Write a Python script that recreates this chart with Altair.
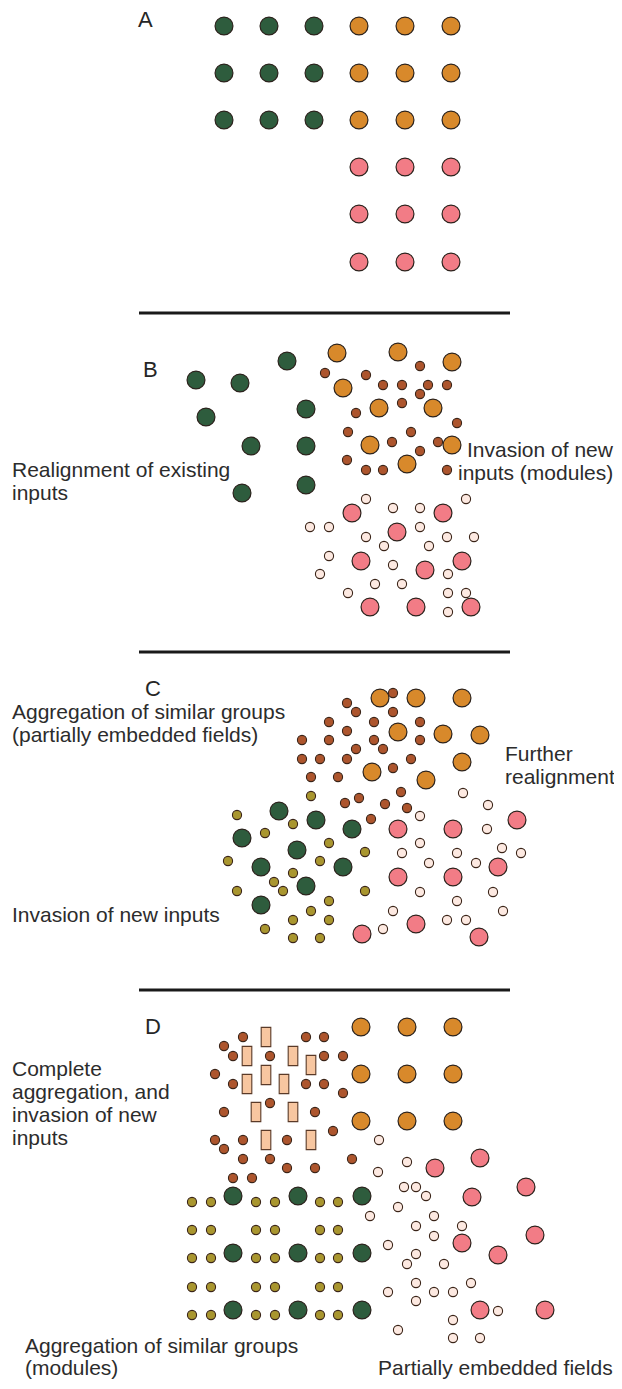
import altair as alt
import pandas as pd

# ---------------- data (page-pixel positions) ----------------
# Panel A
A_GREEN = [(224, 26), (269, 26), (314, 26), (224, 73), (269, 73), (314, 73),
           (224, 120), (269, 120), (314, 120)]
A_ORANGE = [(359, 26), (405, 26), (451, 26), (359, 73), (405, 73), (451, 73),
            (359, 120), (405, 120), (451, 120)]
A_PINK = [(359, 167), (405, 167), (451, 167), (359, 214), (405, 214), (451, 214),
          (359, 262), (405, 262), (451, 262)]

# Panel B
B_GREEN = [(196, 380), (240, 383), (287, 361), (206, 417), (306, 409), (251, 446),
           (306, 446), (242, 493), (306, 485)]
B_ORANGE = [(337, 353), (398, 352), (452, 362), (343, 388), (379, 408), (433, 408),
            (370, 445), (452, 445), (407, 464)]
B_BROWN = [(325, 373), (366, 375), (420, 366), (383, 385), (402, 385), (428, 385),
           (447, 385), (420, 394), (356, 413), (402, 403), (457, 423), (348, 432),
           (411, 432), (392, 442), (438, 442), (420, 451), (347, 460), (366, 470),
           (383, 470), (447, 470)]
B_PINK = [(352, 513), (443, 513), (397, 532), (361, 561), (425, 570), (462, 561),
          (370, 607), (416, 607), (471, 607)]
B_CREAM = [(366, 499), (466, 499), (393, 508), (420, 508), (310, 527), (329, 527),
           (420, 527), (366, 537), (447, 537), (474, 537), (384, 546), (429, 546),
           (329, 556), (393, 565), (448, 574), (320, 574), (375, 584), (402, 584),
           (348, 593), (448, 593), (466, 593), (448, 612)]

# Panel C
C_BROWN = [(393, 693), (347, 703), (356, 712), (393, 712), (329, 722), (374, 722),
           (420, 722), (347, 731), (302, 740), (329, 740), (374, 740), (420, 740),
           (356, 749), (383, 749), (302, 759), (320, 759), (347, 759), (411, 759),
           (393, 768), (311, 777), (338, 777), (401, 792), (359, 798), (345, 803),
           (385, 804), (407, 808), (371, 819)]
C_ORANGE = [(380, 698), (416, 698), (462, 698), (398, 732), (443, 734), (480, 735),
            (462, 762), (372, 772), (426, 780)]
C_GREEN = [(279, 811), (316, 820), (352, 829), (242, 838), (297, 850), (261, 867),
           (343, 867), (306, 886), (261, 905)]
C_OLIVE = [(311, 796), (237, 815), (293, 824), (265, 833), (329, 843), (365, 852),
           (228, 861), (320, 861), (293, 873), (274, 882), (237, 891), (283, 891),
           (365, 891), (329, 901), (311, 911), (293, 920), (329, 920), (265, 929),
           (293, 938), (320, 938)]
C_PINK = [(398, 829), (453, 829), (517, 820), (398, 877), (453, 877), (498, 867),
          (416, 924), (362, 934), (479, 937)]
C_CREAM = [(463, 793), (488, 805), (420, 816), (487, 829), (420, 843), (502, 848),
           (402, 853), (457, 853), (521, 853), (429, 863), (476, 863), (420, 892),
           (493, 892), (457, 901), (393, 911), (503, 911), (447, 920), (466, 920),
           (383, 929)]

# Panel D
D_ORANGE = [(361, 1027), (407, 1027), (453, 1027), (361, 1074), (407, 1074), (453, 1074),
            (361, 1121), (407, 1121), (453, 1121)]
D_BLOCKS = [(266, 1037), (247, 1056), (293, 1056), (311, 1065), (266, 1075), (247, 1084),
            (284, 1084), (256, 1112), (293, 1112), (266, 1140), (311, 1140)]
D_BROWN = [(243, 1037), (306, 1037), (324, 1037), (224, 1046), (233, 1056), (270, 1056),
           (324, 1056), (343, 1056), (215, 1074), (233, 1084), (306, 1084), (324, 1084),
           (343, 1093), (270, 1103), (224, 1112), (315, 1112), (333, 1131), (215, 1140),
           (243, 1140), (287, 1140), (224, 1149), (243, 1159), (270, 1159), (352, 1159),
           (287, 1168), (315, 1168), (233, 1178), (252, 1178)]
D_GREEN = [(233, 1196), (298, 1196), (362, 1196), (233, 1253), (298, 1253), (362, 1253),
           (233, 1310), (298, 1310), (362, 1310)]
D_OLIVE = [(192, 1202), (211, 1202), (256, 1202), (275, 1202), (320, 1202), (338, 1202),
           (192, 1230), (211, 1230), (256, 1230), (275, 1230), (320, 1230), (338, 1230),
           (192, 1258), (211, 1258), (256, 1258), (275, 1258), (320, 1258), (338, 1258),
           (192, 1287), (211, 1287), (256, 1287), (275, 1287), (320, 1287), (338, 1287),
           (192, 1315), (211, 1315), (256, 1315), (275, 1315), (320, 1315), (338, 1315)]
D_PINK = [(435, 1168), (480, 1158), (472, 1197), (526, 1187), (535, 1235), (462, 1243),
          (498, 1255), (480, 1310), (545, 1310)]
D_CREAM = [(379, 1140), (407, 1162), (378, 1172), (404, 1187), (416, 1187), (426, 1196),
           (398, 1207), (370, 1216), (434, 1216), (416, 1226), (462, 1226), (434, 1236),
           (388, 1245), (416, 1254), (407, 1264), (444, 1264), (416, 1283), (471, 1283),
           (388, 1292), (434, 1292), (453, 1292), (416, 1301), (498, 1311), (453, 1320),
           (398, 1330), (453, 1338), (480, 1338)]

# Separator rules
RULE_Y = [313, 652, 990]
RULE_X_START = [139, 139, 139]
RULE_X_END = [510, 510, 510]

# Labels
LABEL_TEXT = ["A", "B", "C", "D"]
LABEL_POS = [(138, 20), (143, 370), (145, 689), (145, 1027)]

NOTE_TEXT = ["Realignment of existing", "inputs",
             "Invasion of new", "inputs (modules)",
             "Aggregation of similar groups", "(partially embedded fields)",
             "Further", "realignment",
             "Invasion of new inputs",
             "Complete", "aggregation, and", "invasion of new", "inputs",
             "Aggregation of similar groups", "(modules)",
             "Partially embedded fields"]
NOTE_POS = [(12, 471), (12, 494),
            (467, 451), (458, 474),
            (12, 713), (12, 736),
            (505, 755), (505, 778),
            (12, 916),
            (12, 1070), (12, 1093), (12, 1116), (12, 1139),
            (25, 1347), (25, 1369),
            (378, 1369)]

# ---------------- build tables ----------------
groups = {
    "green": A_GREEN + B_GREEN + C_GREEN + D_GREEN,
    "orange": A_ORANGE + B_ORANGE + C_ORANGE + D_ORANGE,
    "pink": A_PINK + B_PINK + C_PINK + D_PINK,
    "brown": B_BROWN + C_BROWN + D_BROWN,
    "cream": B_CREAM + C_CREAM + D_CREAM,
    "olive": C_OLIVE + D_OLIVE,
}
rows = []
for kind, pts in groups.items():
    for (x, y) in pts:
        rows.append({"x": x, "y": y, "kind": kind})
dots = pd.DataFrame(rows)
blocks = pd.DataFrame([{"x": x, "y": y} for (x, y) in D_BLOCKS])
rules = pd.DataFrame({"y": RULE_Y, "x": RULE_X_START, "x2": RULE_X_END})
labels = pd.DataFrame({"t": LABEL_TEXT, "x": [p[0] for p in LABEL_POS],
                       "y": [p[1] for p in LABEL_POS]})
notes = pd.DataFrame({"t": NOTE_TEXT, "x": [p[0] for p in NOTE_POS],
                      "y": [p[1] for p in NOTE_POS]})

W, H = 606, 1371
X0, Y0 = 8, 8   # page offset of the plot area
xs = alt.Scale(domain=[X0, X0 + W], nice=False, zero=False)
ys = alt.Scale(domain=[Y0, Y0 + H], nice=False, zero=False, reverse=True)
X = lambda: alt.X("x:Q", scale=xs, axis=None)
Y = lambda: alt.Y("y:Q", scale=ys, axis=None)

kinds = ["green", "orange", "pink", "brown", "cream", "olive"]
fills = ["#2e5c3d", "#d8892b", "#f27c86", "#ad552d", "#fde9e1", "#a9962f"]
fill_enc = alt.Fill("kind:N", scale=alt.Scale(domain=kinds, range=fills), legend=None)

big = alt.Chart(dots).transform_filter(
    alt.FieldOneOfPredicate(field="kind", oneOf=["green", "orange", "pink"])
).mark_point(filled=True, shape="circle", size=320, stroke="#2b221c",
             strokeWidth=1.2, opacity=1).encode(x=X(), y=Y(), fill=fill_enc)

small = alt.Chart(dots).transform_filter(
    alt.FieldOneOfPredicate(field="kind", oneOf=["brown", "cream", "olive"])
).mark_point(filled=True, shape="circle", size=84, stroke="#3a2418",
             strokeWidth=1.1, opacity=1).encode(x=X(), y=Y(), fill=fill_enc)

rects = alt.Chart(blocks).mark_point(
    filled=True, shape="M-0.5,-1L0.5,-1L0.5,1L-0.5,1Z", size=370,
    fill="#f7c6a0", stroke="#5a3a28", strokeWidth=1.1, opacity=1,
).encode(x=X(), y=Y())

rule_layer = alt.Chart(rules).mark_rule(color="#1a1a1a", strokeWidth=3).encode(
    x=X(), x2="x2:Q", y=Y())

label_layer = alt.Chart(labels).mark_text(
    align="left", baseline="middle", font="Liberation Sans", fontSize=22, color="#262626"
).encode(x=X(), y=Y(), text="t:N")

note_layer = alt.Chart(notes).mark_text(
    align="left", baseline="middle", font="Liberation Sans", fontSize=21, color="#2c2c2c"
).encode(x=X(), y=Y(), text="t:N")

chart = alt.layer(rule_layer, big, small, rects, label_layer, note_layer).properties(
    width=W, height=H, padding=0, autosize=alt.AutoSizeParams(type="none"),
    background="white",
).configure_view(stroke=None)

chart.save("out.html", embed_options={"renderer": "svg", "actions": False})
